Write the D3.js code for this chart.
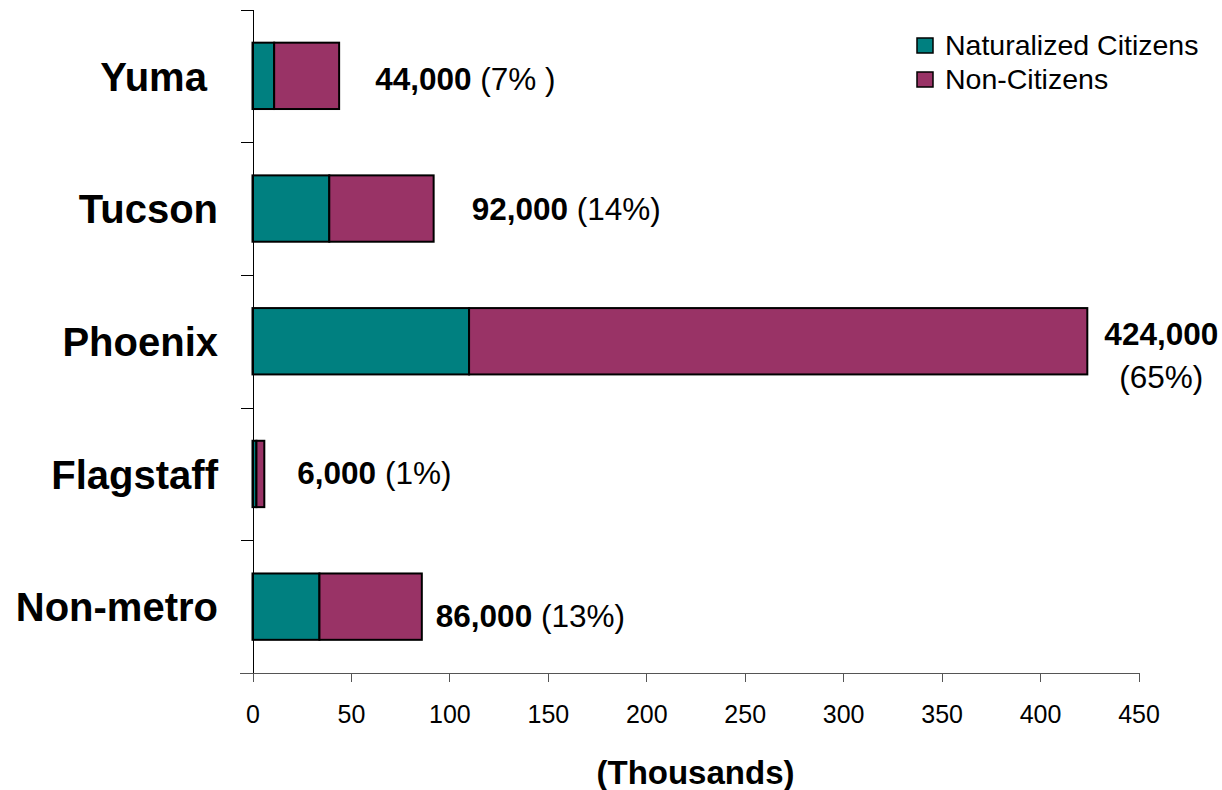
<!DOCTYPE html>
<html>
<head>
<meta charset="utf-8">
<script src="https://d3js.org/d3.v7.min.js"></script>
<style>
    body { margin: 0; background: #fff; }
    svg text { font-family: "Liberation Sans", Arial, sans-serif; fill: #000; }
</style>
</head>
<body>
<div id="chart"></div>
<script>
// 数据
const categories = ["Yuma", "Tucson", "Phoenix", "Flagstaff", "Non-metro"];
const naturalized = [11, 39, 110, 2, 34];
const nonCitizens = [33, 53, 314, 4, 52];
const totalLabels = ["44,000", "92,000", "424,000", "6,000", "86,000"];
const shareLabels = ["(7% )", "(14%)", "(65%)", "(1%)", "(13%)"];
const seriesNames = ["Naturalized Citizens", "Non-Citizens"];
const xTicks = [0, 50, 100, 150, 200, 250, 300, 350, 400, 450];

const colors = ["#008080", "#993366"];
// label offset from bar end: [dx, dy from band center], wrap = two lines
const labelLayout = [
    { dx: 36, dy: 14 },
    { dx: 38, dy: 11.5 },
    { dx: 74, dy: 4, wrap: true },
    { dx: 33, dy: 10 },
    { dx: 14, dy: 20 }
];

const width = 1222, height = 790;
const plotLeft = 252.5, plotRight = 1138.5, plotTop = 9.5, plotBottom = 673;

const svg = d3.select("#chart").append("svg")
    .attr("width", width)
    .attr("height", height);

const x = d3.scaleLinear().domain([0, 450]).range([plotLeft, plotRight]);
const y = d3.scaleBand().domain(categories).range([plotTop, plotBottom])
    .paddingInner(0.5).paddingOuter(0.25);
const yIdx = d3.scaleLinear().domain([0, categories.length]).range([plotTop, plotBottom]);

// bars
const stacked = categories.map((c, i) => ({
    name: c,
    parts: [[0, naturalized[i]], [naturalized[i], naturalized[i] + nonCitizens[i]]]
}));

const rows = svg.append("g").selectAll("g")
    .data(stacked)
    .enter().append("g");

rows.selectAll("rect")
    .data(d => d.parts.map(p => ({ name: d.name, p })))
    .enter().append("rect")
    .attr("x", d => x(d.p[0]))
    .attr("y", d => y(d.name))
    .attr("width", d => x(d.p[1]) - x(d.p[0]))
    .attr("height", y.bandwidth())
    .attr("fill", (d, i) => colors[i])
    .attr("stroke", "#000")
    .attr("stroke-width", 2);

// y axis (ticks at band boundaries)
const yAxis = d3.axisLeft(yIdx)
    .tickValues(d3.range(categories.length))
    .tickSize(12).tickSizeOuter(0)
    .tickFormat("");
svg.append("g")
    .attr("class", "y axis")
    .attr("transform", `translate(${plotLeft},0)`)
    .attr("shape-rendering", "crispEdges")
    .call(yAxis)
    .call(g => g.selectAll("line,path").attr("stroke", "#000"));

// x axis
const xAxis = d3.axisBottom(x)
    .tickValues(xTicks)
    .tickSize(9).tickSizeOuter(0)
    .tickPadding(23);
svg.append("g")
    .attr("class", "x axis")
    .attr("transform", `translate(0,${plotBottom})`)
    .attr("shape-rendering", "crispEdges")
    .call(xAxis)
    .call(g => g.selectAll("line,path").attr("stroke", "#555"))
    .call(g => g.selectAll("text").attr("font-size", 25).attr("fill", "#000")
        .attr("font-family", "'Liberation Sans', Arial, sans-serif"));
svg.append("line")
    .attr("x1", plotLeft - 12.5).attr("x2", plotLeft)
    .attr("y1", plotBottom).attr("y2", plotBottom)
    .attr("stroke", "#555")
    .attr("shape-rendering", "crispEdges");

// category labels
svg.append("g").selectAll("text")
    .data(categories)
    .enter().append("text")
    .attr("x", 218)
    .attr("y", d => y(d) + y.bandwidth() / 2)
    .attr("dy", ".37em")
    .attr("text-anchor", "end")
    .attr("font-size", 40)
    .attr("font-weight", "bold")
    .style("white-space", "pre")
    .text(d => d === "Yuma" ? "Yuma " : d);

// value labels
const vals = svg.append("g").selectAll("text")
    .data(categories)
    .enter().append("text")
    .attr("font-size", 31.5)
    .style("white-space", "pre")
    .attr("x", (d, i) => x(naturalized[i] + nonCitizens[i]) + labelLayout[i].dx)
    .attr("y", (d, i) => y(d) + y.bandwidth() / 2 + labelLayout[i].dy)
    .attr("text-anchor", (d, i) => labelLayout[i].wrap ? "middle" : "start");

vals.each(function(d, i) {
    const t = d3.select(this);
    const lx = x(naturalized[i] + nonCitizens[i]) + labelLayout[i].dx;
    t.append("tspan").attr("font-weight", "bold").text(totalLabels[i]);
    if (labelLayout[i].wrap) {
        t.append("tspan").attr("x", lx).attr("dy", 43).text(shareLabels[i]);
    } else {
        t.append("tspan").text(" " + shareLabels[i]);
    }
});

// x title
svg.append("text")
    .attr("x", (plotLeft + plotRight) / 2)
    .attr("y", 784)
    .attr("text-anchor", "middle")
    .attr("font-size", 33)
    .attr("font-weight", "bold")
    .text("(Thousands)");

// legend
const lg = svg.append("g").attr("transform", "translate(917,38)");
const items = lg.selectAll("g")
    .data(seriesNames)
    .enter().append("g")
    .attr("transform", (d, i) => `translate(0,${i * 34})`);
items.append("rect")
    .attr("width", 16).attr("height", 15)
    .attr("fill", (d, i) => colors[i])
    .attr("stroke", "#000")
    .attr("stroke-width", 1.5);
items.append("text")
    .attr("x", 28)
    .attr("y", 17)
    .attr("font-size", 28.5)
    .text(d => d);
</script>
</body>
</html>
